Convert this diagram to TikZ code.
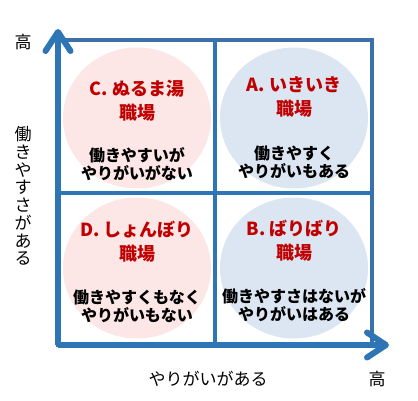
\documentclass[tikz,border=0pt]{standalone}
\usepackage{fontspec}
\setmainfont{Noto Sans CJK JP}
\usepackage{tikz}
\usetikzlibrary{shapes.geometric, arrows.meta, positioning}

\definecolor{axisblue}{HTML}{2E75B6}
\definecolor{frameblue}{HTML}{3C70A8}
\definecolor{pinkzone}{HTML}{FCE6E6}
\definecolor{bluezone}{HTML}{DCE6F2}
\definecolor{titlered}{HTML}{C00000}

\begin{document}
\begin{tikzpicture}[
  x=1pt, y=-1pt,
  axis/.style  = {line width=6pt, draw=axisblue,
                  -{Straight Barb[length=19pt, width=25pt, line cap=round, line join=round]}},
  frame/.style = {line width=4.5pt, draw=frameblue},
  split/.style = {line width=4pt, draw=axisblue},
  zone/.style  = {ellipse, minimum width=148pt, minimum height=141pt, inner sep=0pt},
  title/.style = {font=\bfseries\fontsize{18}{24}\selectfont, text=titlered, align=center},
  note/.style  = {font=\bfseries\fontsize{16}{18}\selectfont, align=center},
  lbl/.style   = {font=\fontsize{17}{17.75}\selectfont, align=center},
]
  \fill[white] (0,0) rectangle (418,401);
  \useasboundingbox (0,0) rectangle (418,401);

  % quadrants
  \node[zone, fill=pinkzone] (lazy)   at (137,118) {};
  \node[zone, fill=bluezone] (lively) at (294,118) {};
  \node[zone, fill=pinkzone] (gloomy) at (137,268) {};
  \node[zone, fill=bluezone] (busy)   at (294,268) {};

  \node[title] (lazyT)   at (137,100.5) {C. ぬるま湯\\職場};
  \node[title] (livelyT) at (294,96.5)  {A. いきいき\\職場};
  \node[title] (gloomyT) at (137,242)   {D. しょんぼり\\職場};
  \node[title] (busyT)   at (294,240.5) {B. ばりばり\\職場};

  \node[note] (lazyN)   at (137,164)   {働きやすいが\\やりがいがない};
  \node[note] (livelyN) at (294,162.5) {働きやすく\\やりがいもある};
  \node[note] (gloomyN) at (137,306.5) {働きやすくもなく\\やりがいもない};
  \node[note] (busyN)   at (294,305)   {働きやすさはないが\\やりがいはある};

  % grid
  \draw[frame] (58,40) rectangle (372,345);
  \draw[split] (215,40) -- (215,345);
  \draw[split] (58,193) -- (372,193);

  % axes
  \coordinate (origin) at (58,345);
  \coordinate (ytip)   at (58,29);
  \coordinate (xtip)   at (389,345);
  \draw[axis] (origin) -- (ytip);
  \draw[axis] (origin) -- (xtip);

  \node[lbl] (yhigh)  at (23,42)  {高};
  \node[lbl] (ylabel) at (23,196) {働\\き\\や\\す\\さ\\が\\あ\\る};
  \node[lbl] (xlabel) at (208,379) {やりがいがある};
  \node[lbl] (xhigh)  at (377,379) {高};
\end{tikzpicture}
\end{document}
